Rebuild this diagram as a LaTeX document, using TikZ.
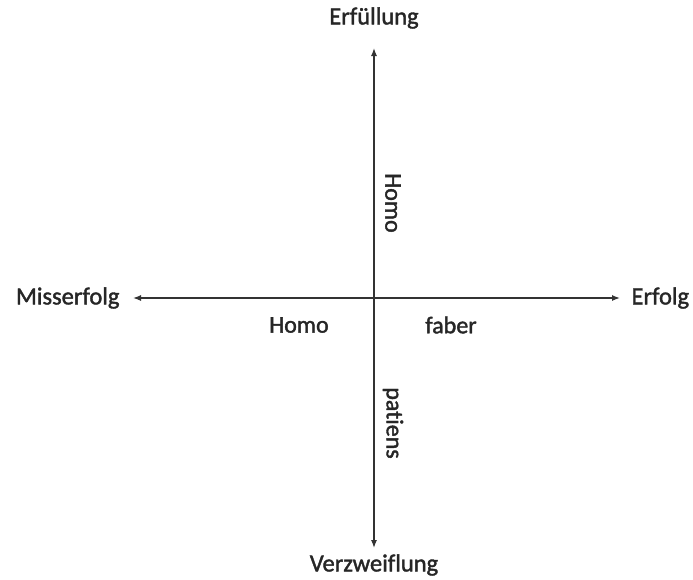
\documentclass[tikz,border=0pt]{standalone}
\usepackage{fontspec}
\setmainfont{Carlito}[Ligatures={NoCommon}]
\newfontfamily\axisfont{Carlito}[Ligatures={NoCommon}, FakeBold=1.6]
\usetikzlibrary{arrows.meta, positioning}

\begin{document}
\begin{tikzpicture}[
    x=1pt, y=-1pt,
    axis/.style={draw=black!80, line width=1.3pt, -{Latex[length=8pt, width=6pt]}},
    pole/.style={font=\axisfont\fontsize{24.5}{28}\selectfont, text=black!85},
    lbl/.style={font=\axisfont\fontsize{24}{28}\selectfont, text=black!85, inner sep=0pt}
]
    \useasboundingbox (0,0) rectangle (693,579);
    % axis ends
    \coordinate (c) at (374,298);
    \coordinate (n) at (374,48);
    \coordinate (s) at (374,548);
    \coordinate (w) at (133,298);
    \coordinate (e) at (620,298);
    \draw[axis] (c) -- (n);
    \draw[axis] (c) -- (s);
    \draw[axis] (c) -- (w);
    \draw[axis] (c) -- (e);
    % poles
    \node[pole] (top) at (374,18) {Erfüllung};
    \node[pole] (bottom) at (374,565) {Verzweiflung};
    \node[pole, anchor=east] (left) at (123,298) {Misserfolg};
    \node[pole, anchor=west] (right) at (628,298) {Erfolg};
    % quadrant labels
    \node[lbl] (homoh) at (299,325) {Homo};
    \node[lbl] (faber) at (451,325) {faber};
    \node[lbl, rotate=-90] (homov) at (393,203) {Homo};
    \node[lbl, rotate=-90] (patiens) at (393,423) {patiens};
\end{tikzpicture}
\end{document}
